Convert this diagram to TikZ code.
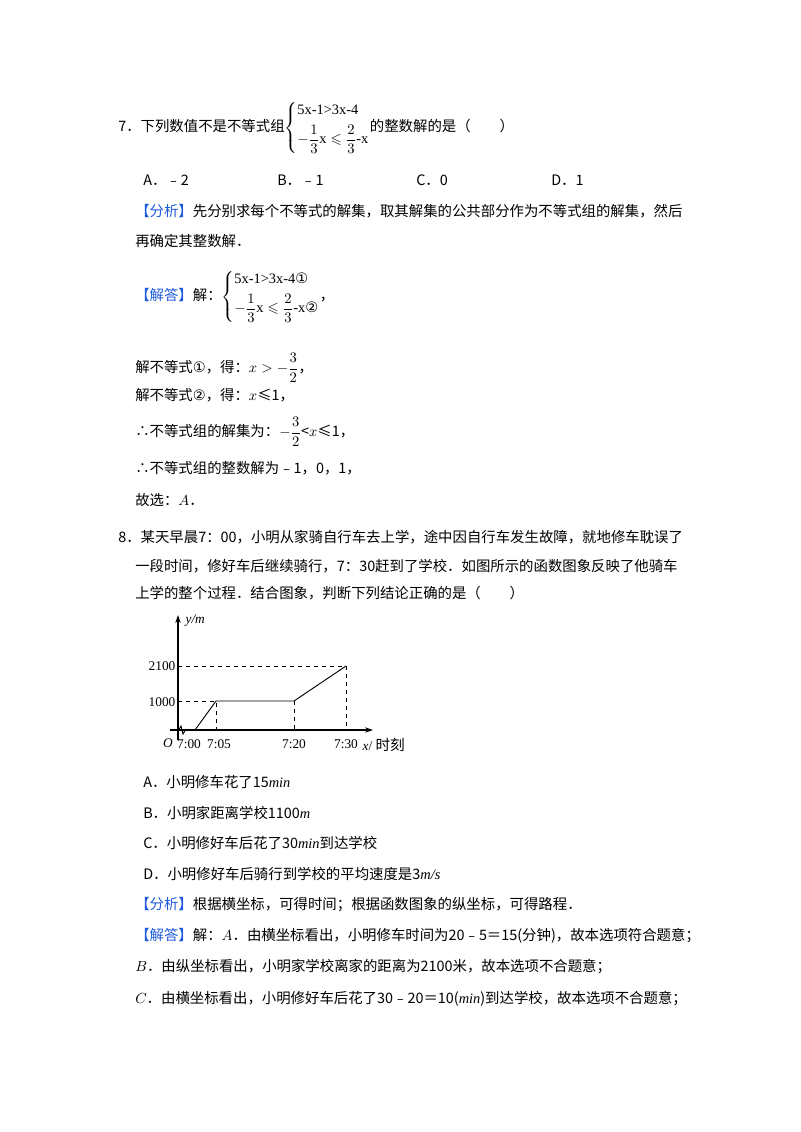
\documentclass[tikz,border=0pt]{standalone}
\usepackage{amsmath,amssymb}
\usepackage{fontspec}
\setmainfont{Noto Sans CJK SC}
\newfontfamily\tms{Liberation Serif}
\newfontfamily\dvs{DejaVu Sans}
\usetikzlibrary{arrows.meta}
\definecolor{blu}{RGB}{30,90,220}
\tikzset{t/.style={anchor=west,inner sep=0pt,font=\fontsize{10.8}{13}\selectfont},
 ax/.style={line width=0.8pt,-{Stealth[length=6pt,width=4pt]}},
 dsh/.style={dashed,line width=0.6pt},
 gl/.style={line width=0.7pt},
 lab/.style={inner sep=1pt,font=\tms\fontsize{10}{12}\selectfont}}
\newcommand{\tg}[1]{\textcolor{blu}{【#1】}}
\newcommand{\ca}{{\dvs ①}}
\newcommand{\cb}{{\dvs ②}}
\newcommand{\sysA}[2]{$\left\{\begin{array}{@{}l@{}}\mbox{\tms 5x-1>3x-4}\mbox{#1}\\[4pt] -\dfrac{1}{3}\mbox{\tms x}\leqslant\dfrac{2}{3}\mbox{\tms -x}\mbox{#2}\end{array}\right.$}
\begin{document}
\begin{tikzpicture}[x=0.75pt,y=-0.75pt]
\useasboundingbox (0,0) rectangle (800,1132);
\node[t] (q7) at (118,128) {7．下列数值不是不等式组\sysA{}{}的整数解的是（\qquad ）};
\node[t] (oa) at (143,180) {A．﹣2};
\node[t] (ob) at (277,180) {B．﹣1};
\node[t] (oc) at (416,180) {C．0};
\node[t] (od) at (551,180) {D．1};
\node[t] (f1) at (135,211) {\tg{分析}先分别求每个不等式的解集，取其解集的公共部分作为不等式组的解集，然后};
\node[t] (f2) at (135,241) {再确定其整数解．};
\node[t] (j1) at (135,297) {\tg{解答}解：\sysA{\ca}{\cb}，};
\node[t] (s1) at (135,368) {解不等式\ca，得：$x>-\dfrac{3}{2}$，};
\node[t] (s2) at (135,395) {解不等式\cb，得：$x$≤1，};
\node[t] (s3) at (135,432) {∴不等式组的解集为：$-\dfrac{3}{2}$<$x$≤1，};
\node[t] (s4) at (135,468) {∴不等式组的整数解为﹣1，0，1，};
\node[t] (s5) at (135,500) {故选：$A$．};
\node[t] (q8) at (118,537) {8．某天早晨7：00，小明从家骑自行车去上学，途中因自行车发生故障，就地修车耽误了};
\node[t] (q8b) at (135,566) {一段时间，修好车后继续骑行，7：30赶到了学校．如图所示的函数图象反映了他骑车};
\node[t] (q8c) at (135,593) {上学的整个过程．结合图象，判断下列结论正确的是（\qquad ）};
% graph
\coordinate (O) at (178,730);
\coordinate (xe) at (373,730);
\coordinate (ye) at (178,615);
\draw[ax] (178,740) -- (ye);
\draw[ax] (170,730) -- (xe);
\draw[gl] (178,731) -- (181,726) -- (183,734) -- (186,729);
\coordinate (p0) at (195,730);
\coordinate (p1) at (216,701);
\coordinate (p2) at (294,701);
\coordinate (p3) at (346,666);
\draw[gl] (p0) -- (p1) -- (p2) -- (p3);
\draw[dsh] (178,701) -- (p1) -- (216,730);
\draw[dsh] (p2) -- (294,730);
\draw[dsh] (178,666) -- (p3) -- (346,730);
\node[lab,anchor=east] (l1000) at (177,702) {1000};
\node[lab,anchor=east] (l2100) at (177,666) {2100};
\node[lab,anchor=west] (ly) at (184,621) {\itshape y/m};
\node[lab] (lO) at (168,743) {\itshape O};
\node[lab] (l0) at (189,744) {7:00};
\node[lab] (l5) at (219,744) {7:05};
\node[lab] (l20) at (294,744) {7:20};
\node[lab] (l30) at (346,744) {7:30};
\node[lab,anchor=west] (lx) at (361,745) {\itshape x\upshape/ {\rmfamily\fontsize{11}{12}\selectfont 时刻}};
% options
\node[t] (a8) at (143,782) {A．小明修车花了15{\tms\itshape min}};
\node[t] (b8) at (143,813) {B．小明家距离学校1100{\tms\itshape m}};
\node[t] (c8) at (143,843) {C．小明修好车后花了30{\tms\itshape min}到达学校};
\node[t] (d8) at (143,874) {D．小明修好车后骑行到学校的平均速度是3{\tms\itshape m/s}};
\node[t] (f8) at (135,905) {\tg{分析}根据横坐标，可得时间；根据函数图象的纵坐标，可得路程．};
\node[t] (j8) at (135,936) {\tg{解答}解：$A$．由横坐标看出，小明修车时间为20﹣5＝15(分钟)，故本选项符合题意；};
\node[t] (j8b) at (135,967) {$B$．由纵坐标看出，小明家学校离家的距离为2100米，故本选项不合题意；};
\node[t] (j8c) at (135,999) {$C$．由横坐标看出，小明修好车后花了30﹣20＝10({\tms\itshape min})到达学校，故本选项不合题意；};
\end{tikzpicture}
\end{document}
